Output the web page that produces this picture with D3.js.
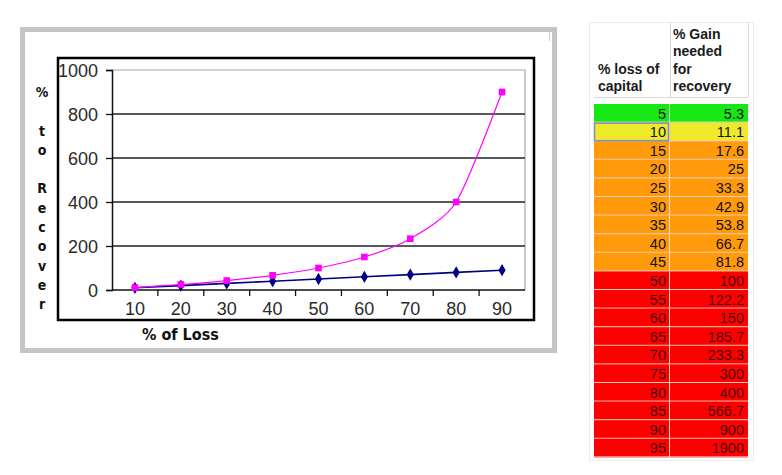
<!DOCTYPE html>
<html lang="en">
<head>
    <meta charset="UTF-8">
    <title>% Gain needed to recover a loss</title>
    <script src="https://d3js.org/d3.v7.min.js"></script>
    <style>
        body {
            margin: 0;
            background: #fff;
        }
        .tick-label {
            font-family: "Liberation Sans", Arial, sans-serif;
            font-size: 18px;
            fill: #2a2a2a;
        }
        .axis-title {
            font-family: "DejaVu Sans Condensed", "DejaVu Sans", sans-serif;
            font-weight: bold;
            fill: #111;
        }
        .cell text, .head text {
            font-family: "Liberation Sans", Arial, sans-serif;
        }
    </style>
</head>
<body>
<div id="chart"></div>
<script>
    // chart data
    const categories = ["10", "20", "30", "40", "50", "60", "70", "80", "90"];
    const lossValues = [10, 20, 30, 40, 50, 60, 70, 80, 90];
    const gainValues = [11.1, 25, 42.9, 66.7, 100, 150, 233.3, 400, 900];
    const yTicks = [0, 200, 400, 600, 800, 1000];
    const yTitle = ["%", "", "t", "o", "", "R", "e", "c", "o", "v", "e", "r"];
    const xTitle = "% of Loss";

    // table data
    const tableHead = [["% loss of", "capital"], ["% Gain", "needed", "for", "recovery"]];
    const tableLoss = [5, 10, 15, 20, 25, 30, 35, 40, 45, 50, 55, 60, 65, 70, 75, 80, 85, 90, 95];
    const tableGain = [5.3, 11.1, 17.6, 25, 33.3, 42.9, 53.8, 66.7, 81.8, 100, 122.2, 150, 185.7, 233.3, 300, 400, 566.7, 900, 1900];

    const width = 782, height = 475;

    const svg = d3.select("#chart").append("svg")
        .attr("width", width)
        .attr("height", height);

    // outer gray frame and inner black box
    svg.append("rect")
        .attr("x", 22.5).attr("y", 29.5)
        .attr("width", 532).attr("height", 321)
        .attr("fill", "#fff")
        .attr("stroke", "#c4c4c4")
        .attr("stroke-width", 5);
    svg.append("line")
        .attr("x1", 549.5).attr("x2", 549.5)
        .attr("y1", 32).attr("y2", 41)
        .attr("stroke", "#d0d0d0");
    svg.append("rect")
        .attr("x", 58).attr("y", 58)
        .attr("width", 476).attr("height", 262)
        .attr("fill", "none")
        .attr("stroke", "#000")
        .attr("stroke-width", 2.5);

    const plot = {left: 112, right: 525, top: 70, bottom: 290};

    const x = d3.scaleBand()
        .domain(categories)
        .range([plot.left, plot.right]);

    const y = d3.scaleLinear()
        .domain([0, 1000])
        .range([plot.bottom, plot.top]);

    // plot area border (gray, top and right)
    svg.append("path")
        .attr("d", `M${plot.left},${plot.top}H${plot.right}V${plot.bottom}`)
        .attr("fill", "none")
        .attr("stroke", "#a8a8a8")
        .attr("stroke-width", 1.2);

    // gridlines
    svg.append("g")
        .selectAll("line")
        .data(yTicks.filter(d => d > 0 && d < 1000))
        .join("line")
        .attr("x1", plot.left).attr("x2", plot.right)
        .attr("y1", d => y(d)).attr("y2", d => y(d))
        .attr("stroke", "#222")
        .attr("stroke-width", 1.4);

    // y axis
    const yAxis = svg.append("g")
        .attr("transform", `translate(${plot.left},0)`)
        .call(d3.axisLeft(y).tickValues(yTicks).tickFormat(d3.format("d")).tickSize(6).tickPadding(8));
    yAxis.select(".domain").attr("stroke", "#111").attr("stroke-width", 1.5);
    yAxis.selectAll(".tick line").attr("stroke", "#111").attr("stroke-width", 1.3);
    yAxis.selectAll(".tick text")
        .attr("class", "tick-label")
        .attr("font-size", null).attr("font-family", null)
        .attr("x", -14)
        .attr("dy", "0.35em");

    // x axis: ticks between categories
    const xAxis = svg.append("g")
        .attr("transform", `translate(0,${plot.bottom})`);
    xAxis.append("line")
        .attr("x1", plot.left).attr("x2", plot.right)
        .attr("stroke", "#111").attr("stroke-width", 1.5);
    xAxis.selectAll(".xt")
        .data(categories.slice(1))
        .join("line")
        .attr("class", "xt")
        .attr("x1", d => x(d)).attr("x2", d => x(d))
        .attr("y1", 0).attr("y2", 6)
        .attr("stroke", "#111").attr("stroke-width", 1.3);
    xAxis.selectAll("text")
        .data(categories)
        .join("text")
        .attr("class", "tick-label")
        .attr("x", d => x(d) + x.bandwidth() / 2)
        .attr("y", 25)
        .attr("text-anchor", "middle")
        .text(d => d);

    // axis titles
    svg.append("g").selectAll("text")
        .data(yTitle)
        .join("text")
        .attr("class", "axis-title")
        .attr("font-size", 14)
        .attr("x", 42)
        .attr("y", (d, i) => 92 + i * 19.3)
        .attr("dy", "0.35em")
        .attr("text-anchor", "middle")
        .text(d => d);

    svg.append("text")
        .attr("class", "axis-title")
        .attr("font-size", 16)
        .attr("x", 142)
        .attr("y", 340)
        .text(xTitle);

    // series
    const cx = (d, i) => x(categories[i]) + x.bandwidth() / 2;

    const gainLine = d3.line()
        .x(cx)
        .y(d => y(d))
        .curve(d3.curveCardinal.tension(0.3));
    const lossLine = d3.line()
        .x(cx)
        .y(d => y(d));

    svg.append("path")
        .datum(lossValues)
        .attr("d", lossLine)
        .attr("fill", "none")
        .attr("stroke", "#000080")
        .attr("stroke-width", 1.6);

    svg.append("path")
        .datum(gainValues)
        .attr("d", gainLine)
        .attr("fill", "none")
        .attr("stroke", "#ff00ff")
        .attr("stroke-width", 1.2);

    svg.append("g").selectAll("path")
        .data(lossValues)
        .join("path")
        .attr("transform", (d, i) => `translate(${cx(d, i)},${y(d)})`)
        .attr("d", d3.symbol(d3.symbolDiamond).size(44))
        .attr("fill", "#000080");

    svg.append("g").selectAll("path")
        .data(gainValues)
        .join("path")
        .attr("transform", (d, i) => `translate(${cx(d, i)},${y(d)})`)
        .attr("d", d3.symbol(d3.symbolSquare).size(44))
        .attr("fill", "#ff00ff");

    // ---- table ----
    const tbl = {left: 594, mid: 670, right: 748, top: 104, rowH: 18.6};
    const rowY = d3.scaleBand()
        .domain(tableLoss)
        .range([tbl.top, tbl.top + tbl.rowH * tableLoss.length]);

    function rowColor(loss) {
        if (loss <= 5) return "#16e816";
        if (loss <= 10) return "#eeea2a";
        if (loss < 50) return "#ff9a0a";
        return "#ff0000";
    }

    // faint outer box
    svg.append("rect")
        .attr("x", 589.5).attr("y", 22.5)
        .attr("width", 164).attr("height", 438)
        .attr("fill", "#fff")
        .attr("stroke", "#ececec");

    // header column lines
    const head = svg.append("g").attr("class", "head");
    [tbl.mid, tbl.right].forEach(xx => {
        head.append("line")
            .attr("x1", xx + 0.5).attr("x2", xx + 0.5)
            .attr("y1", 23).attr("y2", 97)
            .attr("stroke", "#d8d8d8");
    });
    head.append("line")
        .attr("x1", tbl.left).attr("x2", tbl.right)
        .attr("y1", 97.5).attr("y2", 97.5)
        .attr("stroke", "#d8d8d8");

    const headLines = [
        {x: tbl.left + 4, lines: tableHead[0], first: 74},
        {x: tbl.mid + 3, lines: tableHead[1], first: 39}
    ];
    headLines.forEach(h => {
        h.lines.forEach((t, i) => {
            head.append("text")
                .attr("x", h.x)
                .attr("y", h.first + i * 17.3)
                .attr("font-size", 14)
                .attr("font-weight", "bold")
                .attr("fill", "#1a1a1a")
                .text(t);
        });
    });

    const rows = svg.append("g").selectAll("g")
        .data(tableLoss)
        .join("g")
        .attr("class", "cell")
        .attr("transform", d => `translate(0,${rowY(d)})`);

    rows.append("rect")
        .attr("x", tbl.left).attr("width", tbl.right - tbl.left)
        .attr("height", rowY.bandwidth())
        .attr("fill", d => rowColor(d));

    rows.append("line")
        .attr("x1", tbl.left).attr("x2", tbl.right)
        .attr("y1", rowY.bandwidth() - 0.5).attr("y2", rowY.bandwidth() - 0.5)
        .attr("stroke", "#f2d0c0").attr("stroke-width", 1);
    rows.append("line")
        .attr("x1", tbl.mid - 0.5).attr("x2", tbl.mid - 0.5)
        .attr("y1", 0).attr("y2", rowY.bandwidth())
        .attr("stroke", "#f2e0d0").attr("stroke-width", 1);

    rows.append("text")
        .attr("x", tbl.mid - 4)
        .attr("y", rowY.bandwidth() - 4)
        .attr("text-anchor", "end")
        .attr("font-size", 14.5)
        .attr("fill", d => d >= 50 ? "#4a0000" : "#111")
        .text(d => d);

    rows.append("text")
        .attr("x", tbl.right - 4)
        .attr("y", rowY.bandwidth() - 4)
        .attr("text-anchor", "end")
        .attr("font-size", 14.5)
        .attr("fill", d => d >= 50 ? "#4a0000" : "#111")
        .text((d, i) => tableGain[i]);

    // selected cell outline
    svg.append("rect")
        .attr("x", tbl.left + 0.5)
        .attr("y", rowY(10) + 0.5)
        .attr("width", tbl.mid - tbl.left - 2)
        .attr("height", rowY.bandwidth() - 1)
        .attr("fill", "none")
        .attr("stroke", "#7e93c4")
        .attr("stroke-width", 1.6);
</script>
</body>
</html>
